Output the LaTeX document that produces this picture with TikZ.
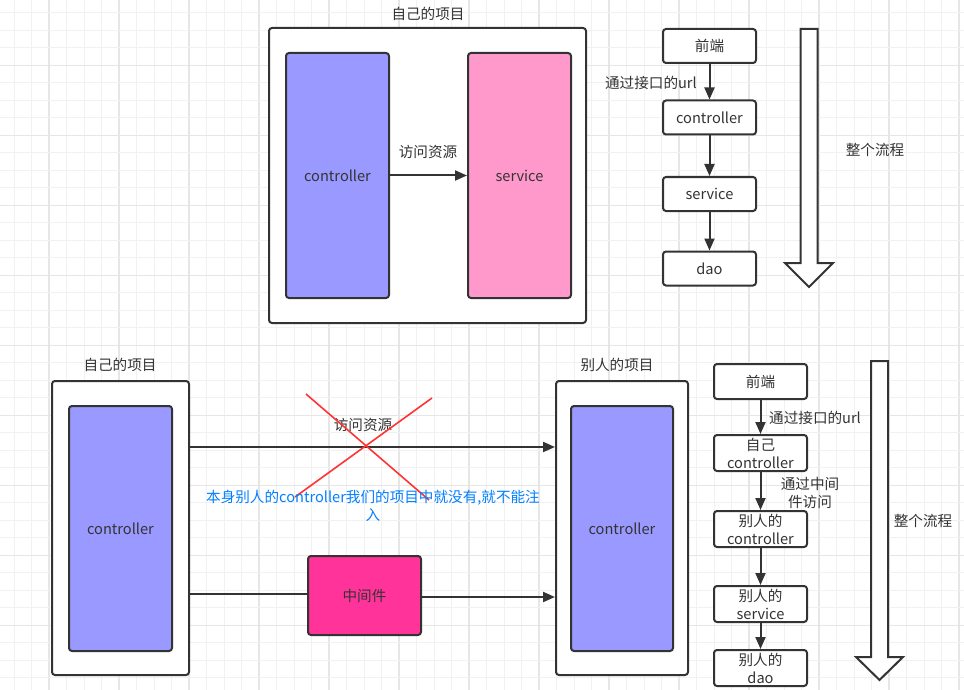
\documentclass[tikz,border=0pt]{standalone}
\usepackage{fontspec}
\setmainfont{Noto Sans CJK SC}
\usetikzlibrary{arrows.meta,calc}
\definecolor{ink}{HTML}{333333}
\definecolor{ctlblue}{HTML}{9999FF}
\definecolor{svcpink}{HTML}{FF99CC}
\definecolor{midpink}{HTML}{FF3399}
\definecolor{txtblue}{HTML}{007FFF}
\definecolor{crossred}{HTML}{FF3333}
\definecolor{gridminor}{HTML}{F1F1F1}
\definecolor{gridmajor}{HTML}{E6E6E6}
\begin{document}
\begin{tikzpicture}[x=1pt,y=-1pt,
  every node/.style={font=\fontsize{14.6}{18}\selectfont, text=ink},
  container/.style={draw=ink, line width=2pt, rounded corners=3pt, fill=white, inner sep=0pt},
  bigbox/.style={draw=ink, line width=2pt, rounded corners=3pt, inner sep=0pt, minimum width=103pt, minimum height=245pt},
  flowbox/.style={draw=ink, line width=2pt, rounded corners=3pt, fill=white, inner sep=0pt, minimum width=93pt, align=center},
  arr/.style={draw=ink, line width=2pt, -{Triangle[length=12pt,width=10pt]}},
  plain/.style={draw=ink, line width=2pt},
  hollow/.style={draw=ink, line width=2pt, fill=white, line join=miter},
  cross/.style={draw=crossred, line width=1.6pt},
  lbl/.style={inner sep=1pt}
]
\useasboundingbox (0,0) rectangle (964,690);
\fill[white] (0,0) rectangle (964,690);
% grid
\foreach \k in {0,...,54} {
  \pgfmathtruncatemacro{\m}{mod(\k,4)}
  \ifnum\m=2
    \draw[gridmajor, line width=1.2pt] ({14+17.5*\k},0) -- ({14+17.5*\k},690);
  \else
    \draw[gridminor, line width=1pt] ({14+17.5*\k},0) -- ({14+17.5*\k},690);
  \fi
}
\foreach \k in {0,...,39} {
  \pgfmathtruncatemacro{\m}{mod(\k,4)}
  \ifnum\m=3
    \draw[gridmajor, line width=1.2pt] (0,{12.7+17.5*\k}) -- (964,{12.7+17.5*\k});
  \else
    \draw[gridminor, line width=1pt] (0,{12.7+17.5*\k}) -- (964,{12.7+17.5*\k});
  \fi
}

% ---------- top section ----------
\node[lbl] (t1) at (428,14) {自己的项目};
\node[container, minimum width=317pt, minimum height=295pt] (own1) at (427.5,175.5) {};
\node[bigbox, fill=ctlblue] (ctl1) at (337.5,175.5) {controller};
\node[bigbox, fill=svcpink] (svc1) at (519.5,175.5) {service};
\draw[arr] (ctl1.east) -- (svc1.west);
\node[lbl] (acc1) at (428,152) {访问资源};

% top flow
\node[flowbox, minimum height=34pt] (fa1) at (709.5,46) {前端};
\node[flowbox, minimum height=34pt] (fa2) at (709.5,117.5) {controller};
\node[flowbox, minimum height=34pt] (fa3) at (709.5,194) {service};
\node[flowbox, minimum height=34pt] (fa4) at (709.5,268.5) {dao};
\draw[arr] (fa1.south) -- (fa2.north);
\draw[arr] (fa2.south) -- (fa3.north);
\draw[arr] (fa3.south) -- (fa4.north);
\node[lbl, anchor=east] (url1) at (698,83) {通过接口的url};

\draw[hollow] (800.5,29) -- (817.5,29) -- (817.5,263) -- (833,263) -- (809,287) -- (785,263) -- (800.5,263) -- cycle;
\node[lbl] (proc1) at (875,150) {整个流程};

% ---------- bottom section ----------
\node[lbl] (t2) at (120,365) {自己的项目};
\node[container, minimum width=137pt, minimum height=294pt] (own2) at (120.5,528) {};
\node[bigbox, fill=ctlblue] (ctl2) at (120.5,528.5) {controller};

\node[lbl] (t3) at (617,365) {别人的项目};
\node[container, minimum width=132pt, minimum height=294pt] (oth) at (622,528) {};
\node[bigbox, fill=ctlblue, minimum width=102pt] (ctl3) at (622,528.5) {controller};

\coordinate (r1) at (0,447);
\coordinate (r2) at (0,594);
\coordinate (r3) at (0,597);
\draw[arr] (own2.east |- r1) -- (oth.west |- r1);
\node[lbl] (acc2) at (363,425) {访问资源};
\draw[cross] (306,394) -- (429,500);
\draw[cross] (432,398) -- (295,497);

\node[lbl, text=txtblue, align=center] (note) at (373,506) {本身别人的controller我们的项目中就没有,就不能注\\入};

\node[draw=ink, line width=2pt, rounded corners=3pt, fill=midpink, minimum width=113pt, minimum height=79pt, inner sep=0pt] (mid) at (364.5,595.5) {中间件};
\draw[plain] (own2.east |- r2) -- (mid.west |- r2);
\draw[arr] (mid.east |- r3) -- (oth.west |- r3);

% bottom flow
\node[flowbox, minimum height=35pt] (fb1) at (760.5,381.5) {前端};
\node[flowbox, minimum height=36pt] (fb2) at (760.5,453) {自己\\controller};
\node[flowbox, minimum height=36pt] (fb3) at (760.5,529) {别人的\\controller};
\node[flowbox, minimum height=36pt] (fb4) at (760.5,604) {别人的\\service};
\node[flowbox, minimum height=36pt] (fb5) at (760.5,668) {别人的\\dao};
\draw[arr] (fb1.south) -- (fb2.north);
\draw[arr] (fb2.south) -- (fb3.north);
\draw[arr] (fb3.south) -- (fb4.north);
\draw[arr] (fb4.south) -- (fb5.north);
\node[lbl, anchor=west] (url2) at (768,418) {通过接口的url};
\node[lbl, align=center] (viamid) at (810,493) {通过中间\\件访问};

\draw[hollow] (871,361) -- (888,361) -- (888,657) -- (903,657) -- (879.5,680) -- (856,657) -- (871,657) -- cycle;
\node[lbl] (proc2) at (923,521) {整个流程};
\end{tikzpicture}
\end{document}
